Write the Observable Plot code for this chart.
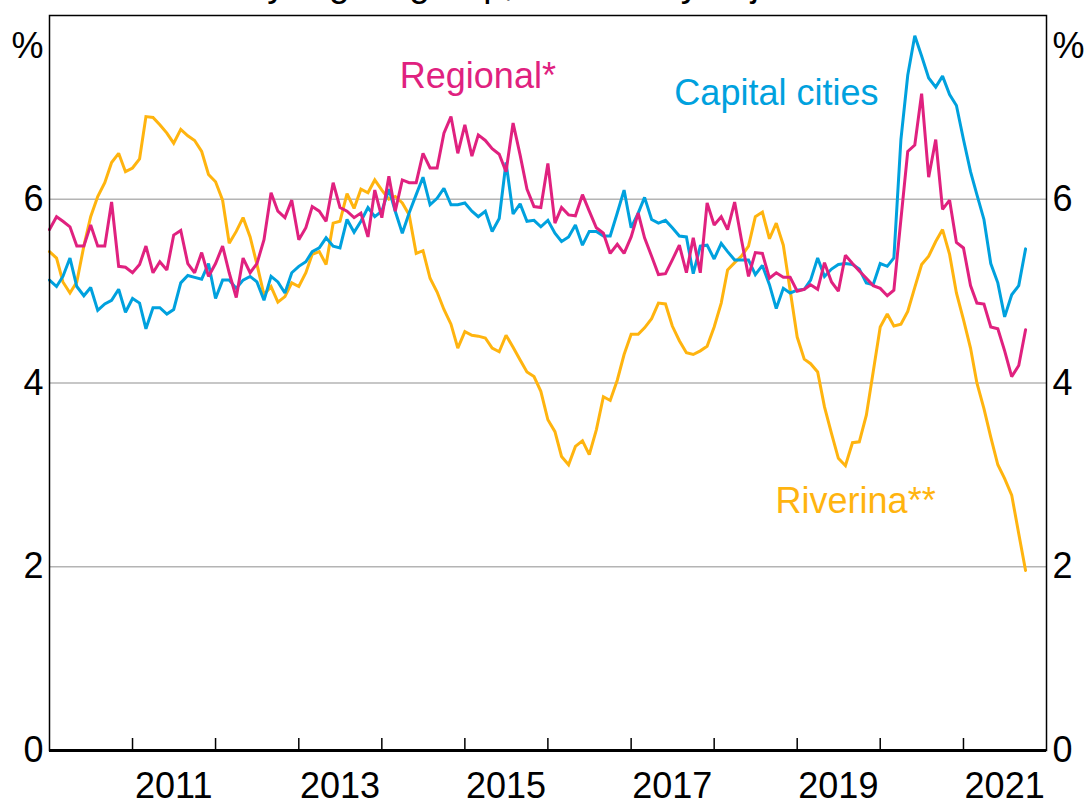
<!DOCTYPE html>
<html><head><meta charset="utf-8">
<script src="https://cdn.jsdelivr.net/npm/d3@7"></script>
<script src="https://cdn.jsdelivr.net/npm/@observablehq/plot@0.6"></script>
<style>
html,body{margin:0;padding:0;background:#fff;}
#wrap{position:relative;width:1084px;height:805px;overflow:hidden;font-family:"Liberation Sans",Arial,sans-serif;}
#chart{position:absolute;left:0;top:0;}
#subtitle{position:absolute;left:0;width:1092px;top:-35px;text-align:center;font-size:37px;line-height:37px;color:#000;white-space:nowrap;}
</style></head>
<body><div id="wrap"><div id="chart"></div><div id="subtitle">By region group, seasonally adjusted</div></div>
<script>
// Monthly, Jan 2010 – Oct 2021 (%)
const regional = [
5.67,5.81,5.76,5.70,5.49,5.49,5.72,5.49,5.49,5.97,5.27,5.26,
5.20,5.29,5.49,5.20,5.32,5.23,5.61,5.66,5.30,5.20,5.42,5.16,
5.30,5.49,5.20,4.93,5.36,5.20,5.30,5.56,6.07,5.87,5.80,5.99,
5.56,5.69,5.92,5.87,5.76,6.18,5.91,5.87,5.80,5.85,5.59,6.10,
5.80,6.25,5.87,6.21,6.18,6.18,6.50,6.34,6.34,6.72,6.90,6.50,
6.81,6.47,6.70,6.64,6.55,6.49,6.30,6.83,6.48,6.11,5.92,5.91,
6.39,5.74,5.91,5.83,5.82,6.05,5.87,5.69,5.63,5.41,5.51,5.41,
5.59,5.85,5.58,5.38,5.18,5.19,5.34,5.50,5.20,5.58,5.20,5.96,
5.72,5.81,5.67,5.97,5.56,5.16,5.42,5.41,5.14,5.20,5.15,5.15,
5.00,5.02,5.07,5.02,5.31,5.10,5.00,5.39,5.30,5.22,5.14,5.06,
5.03,4.95,5.01,5.78,6.52,6.59,7.15,6.24,6.65,5.89,5.99,5.53,
5.47,5.06,4.87,4.86,4.61,4.59,4.35,4.07,4.19,4.58];
const capital = [
5.12,5.05,5.16,5.36,5.05,4.95,5.04,4.79,4.86,4.90,5.02,4.77,
4.92,4.87,4.59,4.82,4.82,4.75,4.80,5.09,5.17,5.15,5.13,5.30,
4.92,5.12,5.12,5.03,5.12,5.16,5.10,4.90,5.16,5.10,4.98,5.20,
5.27,5.32,5.43,5.47,5.58,5.49,5.47,5.78,5.64,5.76,5.91,5.81,
5.87,6.11,5.87,5.63,5.85,6.05,6.24,5.94,6.01,6.12,5.94,5.94,
5.96,5.87,5.81,5.87,5.65,5.79,6.40,5.84,5.95,5.76,5.77,5.70,
5.77,5.63,5.54,5.59,5.72,5.50,5.65,5.65,5.60,5.60,5.85,6.10,
5.69,5.85,6.02,5.78,5.74,5.77,5.69,5.60,5.59,5.19,5.49,5.50,
5.35,5.52,5.43,5.34,5.34,5.34,5.18,5.28,5.07,4.81,5.03,4.98,
5.01,5.02,5.12,5.36,5.16,5.24,5.29,5.30,5.29,5.24,5.09,5.07,
5.30,5.27,5.36,6.65,7.35,7.78,7.56,7.32,7.22,7.34,7.14,7.02,
6.65,6.30,6.05,5.78,5.30,5.09,4.72,4.96,5.06,5.46];
const riverina = [
5.43,5.36,5.10,4.98,5.10,5.49,5.81,6.03,6.18,6.40,6.50,6.30,
6.34,6.44,6.90,6.89,6.81,6.72,6.61,6.76,6.69,6.64,6.52,6.27,
6.19,5.99,5.52,5.65,5.80,5.59,5.29,4.96,5.05,4.88,4.94,5.09,
5.05,5.20,5.40,5.43,5.29,5.74,5.76,6.06,5.90,6.11,6.07,6.21,
6.10,6.00,6.03,5.96,5.83,5.41,5.44,5.14,4.99,4.80,4.64,4.38,
4.56,4.52,4.51,4.49,4.38,4.34,4.52,4.39,4.25,4.12,4.07,3.91,
3.60,3.47,3.20,3.11,3.31,3.37,3.22,3.49,3.85,3.81,4.03,4.31,
4.53,4.53,4.60,4.70,4.87,4.86,4.62,4.46,4.33,4.31,4.35,4.40,
4.61,4.87,5.23,5.31,5.38,5.49,5.81,5.86,5.57,5.74,5.50,5.01,
4.50,4.26,4.21,4.12,3.74,3.45,3.18,3.10,3.35,3.36,3.65,4.12,
4.61,4.75,4.62,4.64,4.78,5.04,5.29,5.38,5.54,5.67,5.40,4.98,
4.69,4.38,4.00,3.72,3.41,3.11,2.96,2.78,2.36,1.96];

const seriesNames = ["Regional*", "Capital cities", "Riverina**"];
const seriesColors = ["#e0217f", "#00a1de", "#ffb40f"];
const labelDates = [new Date(Date.UTC(2014, 2, 21)), new Date(Date.UTC(2017, 6, 10)), new Date(Date.UTC(2018, 8, 28))];
const labelValues = [7.21, 7.03, 2.58];

const yTicks = [0, 2, 4, 6];
const gridValues = [2, 4, 6];
const xLabelYears = [2011, 2013, 2015, 2017, 2019, 2021];
const unitLabel = ["%"];

const months = d3.utcMonth.range(new Date(Date.UTC(2010, 0, 1)), new Date(Date.UTC(2021, 10, 1)));
const toRows = (vals) => vals.map((v, i) => ({date: months[i], value: v}));
const tickYears = d3.utcYear.range(new Date(Date.UTC(2011, 0, 1)), new Date(Date.UTC(2022, 0, 1)));
const xLabelDates = xLabelYears.map(y => new Date(Date.UTC(y, 6, 1)));
const labels = seriesNames.map((n, i) => ({name: n, date: labelDates[i], value: labelValues[i], color: seriesColors[i]}));
const font = '"Liberation Sans", Arial, sans-serif';
const lineOpts = {x: "date", y: "value", strokeWidth: 3, strokeLinejoin: "miter", strokeMiterlimit: 2};

const chart = Plot.plot({
  width: 1084, height: 805,
  marginLeft: 49, marginRight: 38, marginTop: 15, marginBottom: 55,
  style: {fontFamily: font, fontSize: "36px", color: "#000", background: "#fff"},
  x: {type: "utc", domain: [new Date(Date.UTC(2010, 0, 1)), new Date(Date.UTC(2022, 0, 1))]},
  y: {domain: [0, 8]},
  marks: [
    Plot.ruleY(gridValues, {stroke: "#b4b4b4", strokeWidth: 1.6}),
    Plot.line(toRows(riverina), {...lineOpts, stroke: seriesColors[2]}),
    Plot.line(toRows(capital), {...lineOpts, stroke: seriesColors[1]}),
    Plot.line(toRows(regional), {...lineOpts, stroke: seriesColors[0]}),
    Plot.ruleX(tickYears, {stroke: "#000", strokeWidth: 1.5, insetTop: 723}),
    Plot.frame({stroke: "#000", strokeWidth: 1.5}),
    Plot.ruleY([0], {stroke: "#000", strokeWidth: 3}),
    Plot.axisX(xLabelDates, {tickSize: 0, tickPadding: 22, tickFormat: d3.utcFormat("%Y"), fontSize: 36, label: null}),
    Plot.axisY(yTicks, {anchor: "left", tickSize: 0, tickPadding: 6, tickFormat: d3.format("d"), fontSize: 36, label: null}),
    Plot.axisY(yTicks, {anchor: "right", tickSize: 0, tickPadding: 6, tickFormat: d3.format("d"), fontSize: 36, label: null}),
    Plot.text(unitLabel, {text: d => d, frameAnchor: "top-left", textAnchor: "end", dx: -6, dy: 17, fontSize: 36}),
    Plot.text(unitLabel, {text: d => d, frameAnchor: "top-right", textAnchor: "start", dx: 6, dy: 17, fontSize: 36}),
    ...labels.map(l => Plot.text([l], {x: "date", y: "value", text: "name", fill: l.color, textAnchor: "start", lineAnchor: "bottom", fontSize: 36}))
  ]
});
document.getElementById("chart").append(chart);
</script></body></html>
